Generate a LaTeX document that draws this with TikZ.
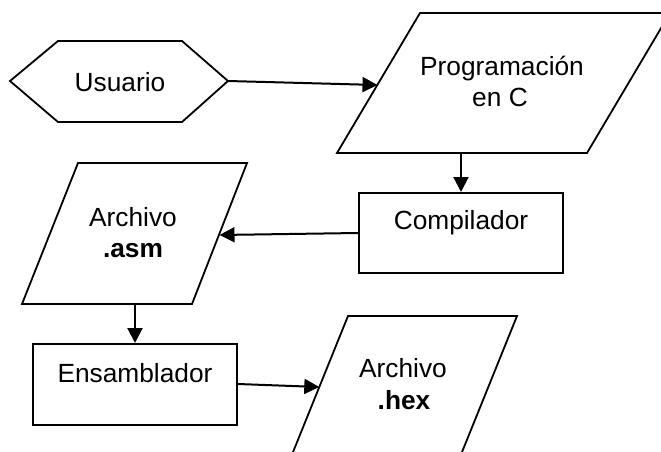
\documentclass[tikz,border=0pt]{standalone}
\usepackage{fontspec}
\setmainfont{Liberation Sans}
\usetikzlibrary{arrows.meta}

\tikzset{
  outline/.style={draw=black, line width=1.8pt, line join=miter},
  box/.style={draw=black, line width=2pt, fill=white, minimum width=204pt, minimum height=80pt, inner sep=0pt},
  txt/.style={anchor=base, inner sep=0pt, font=\fontsize{26.3}{31.5}\selectfont},
  flow/.style={draw=black, line width=2pt, -{Triangle[length=15pt,width=15pt]}},
}

\begin{document}
\begin{tikzpicture}[x=1pt, y=-1pt]
  \useasboundingbox (0,0) rectangle (661,452);
  \clip (0,0) rectangle (661,452);

  % user (hexagon)
  \draw[outline] (10,81) -- (58,41) -- (182,41) -- (228,81) -- (182,122) -- (58,122) -- cycle;
  \node[txt] (usuario) at (120,91) {Usuario};
  \coordinate (usuario-out) at (228,81);

  % C source (data)
  \draw[outline] (420,13) -- (670,13) -- (587,153) -- (337,153) -- cycle;
  \node[txt] (prog1) at (502,75) {Programación};
  \node[txt] (prog2) at (500,106) {en C};
  \coordinate (prog-in) at (377.5,85);
  \coordinate (prog-out) at (461,153);

  % compiler
  \node[box] (comp) at (461,233) {};
  \node[txt] (comptext) at (461,229) {Compilador};

  % .asm file (data)
  \draw[outline] (78,163) -- (247,163) -- (192,304) -- (22,304) -- cycle;
  \node[txt] (asm1) at (133,226) {Archivo};
  \node[txt] (asm2) at (133,257) {\bfseries .asm};
  \coordinate (asm-in) at (219.5,235);
  \coordinate (asm-out) at (135,304);

  % assembler
  \node[box, minimum height=81pt] (ens) at (135,384.5) {};
  \node[txt] (enstext) at (135,382) {Ensamblador};

  % .hex file (data)
  \draw[outline] (348,316) -- (517,316) -- (458.8,460) -- (289.8,460) -- cycle;
  \node[txt] (hex1) at (403,377) {Archivo};
  \node[txt] (hex2) at (404,409) {\bfseries .hex};
  \coordinate (hex-in) at (319.3,387);

  % connectors
  \draw[flow] (usuario-out) -- (prog-in);
  \draw[flow] (prog-out) -- (comp.north);
  \draw[flow] (comp.west) -- (asm-in);
  \draw[flow] (asm-out) -- (ens.north);
  \draw[flow] ([yshift=0.5pt]ens.east) -- (hex-in);
\end{tikzpicture}
\end{document}
